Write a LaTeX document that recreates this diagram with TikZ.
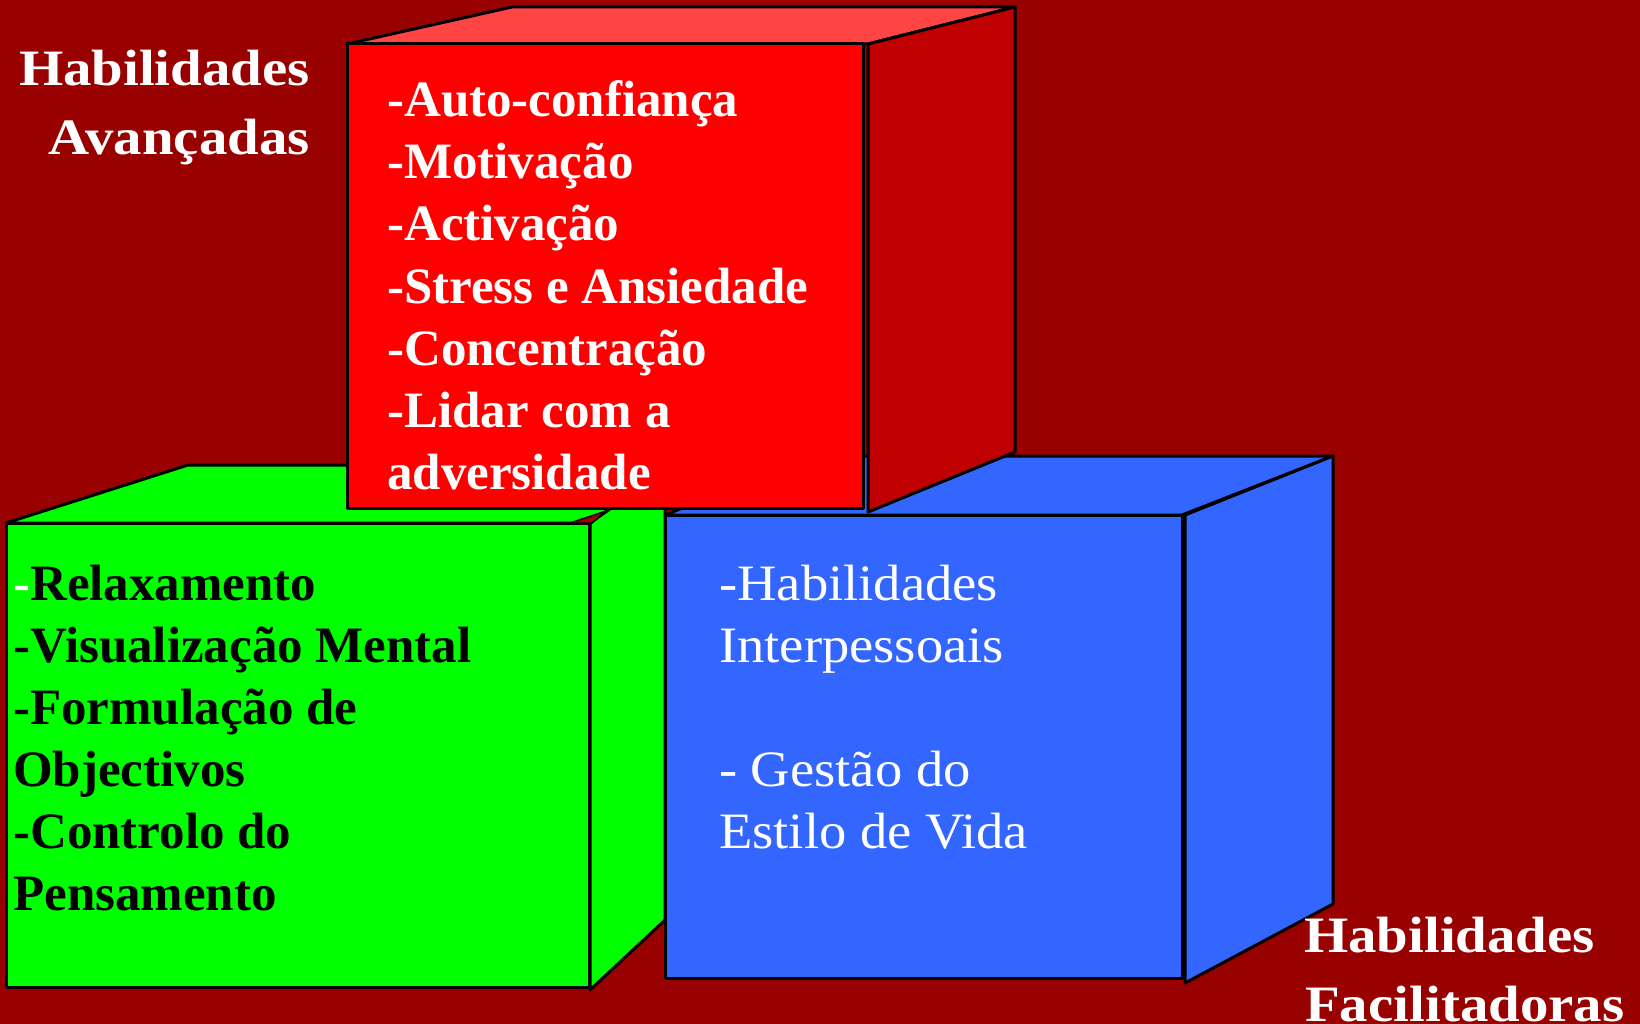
\documentclass[tikz,border=0pt]{standalone}
\usepackage{fontspec}
\setmainfont{Liberation Serif}
\newfontfamily\labelfont[FakeStretch=1.115]{Liberation Serif}
\newfontfamily\bluefont[FakeStretch=1.07]{Liberation Serif}
\definecolor{bgred}{HTML}{990000}
\definecolor{redfront}{HTML}{FF0000}
\definecolor{redtop}{HTML}{FF4444}
\definecolor{redside}{HTML}{C00000}
\definecolor{grn}{HTML}{00FF00}
\definecolor{blu}{HTML}{3366FF}
\tikzset{
  face/.style={draw=black, line width=3pt, line join=round},
  boxtxt/.style={anchor=base west, inner sep=0pt, font=\fontsize{51}{62}\selectfont\bfseries},
  bluetxt/.style={anchor=base west, inner sep=0pt, text=white, font=\fontsize{51}{62}\selectfont\bluefont},
  sidelabel/.style={inner sep=0pt, text=white, font=\fontsize{51}{62}\selectfont\labelfont\bfseries}
}
\begin{document}
\begin{tikzpicture}[x=1pt,y=-1pt]
\fill[bgred] (0,0) rectangle (1640,1024);
\useasboundingbox (0,0) rectangle (1640,1024);

% green cube
\filldraw[face, fill=grn] (6,523) -- (188,465) -- (760,465) -- (578,523) -- cycle;
\filldraw[face, fill=grn] (590,523) -- (665,470) -- (665,920) -- (590,990) -- cycle;
\filldraw[face, fill=grn] (6,523) rectangle (589,987);
\filldraw[fill=bgred, draw=black, line width=1.5pt, line join=round] (570,523) -- (606,511) -- (592,523) -- cycle;

% blue cube
\filldraw[face, fill=blu] (665,515) -- (815,456) -- (1333,456) -- (1182,515) -- cycle;
\filldraw[face, fill=blu] (1185,515) -- (1333,456) -- (1333,904) -- (1185,983) -- cycle;
\filldraw[face, fill=blu] (665,515) rectangle (1182,978);

% red cube
\filldraw[face, fill=redtop] (347,44) -- (512,7) -- (1015,7) -- (868,44) -- cycle;
\filldraw[face, fill=redside] (868,44) -- (1015,7) -- (1015,452) -- (868,512) -- cycle;
\filldraw[face, fill=redfront] (347,44) rectangle (863,508);

% red texts
\foreach \t [count=\i] in {-Auto-confiança,-Motivação,-Activação,-Stress e Ansiedade,-Concentração,-Lidar com a,adversidade}
  \node[boxtxt, text=white] (r\i) at (387,{117+62*(\i-1)}) {\t};

% green texts
\node[boxtxt, text=black] (g1) at (13,600) {{\color{white}-}Relaxamento};
\foreach \t [count=\i from 2] in {-Visualização Mental,-Formulação de,Objectivos,-Controlo do,Pensamento}
  \node[boxtxt, text=black] (g\i) at (13,{600+62*(\i-1)}) {\t};

% blue texts
\node[bluetxt] (b1) at (719,600) {-Habilidades};
\node[bluetxt] (b2) at (719,662) {Interpessoais};
\node[bluetxt] (b3) at (719,786) {- Gestão do};
\node[bluetxt] (b4) at (719,848) {Estilo de Vida};

% side labels
\node[sidelabel, anchor=base east] (la1) at (310,86) {Habilidades};
\node[sidelabel, anchor=base east] (la2) at (310,155) {Avançadas};
\node[sidelabel, anchor=base west] (lb1) at (1304,952) {Habilidades};
\node[sidelabel, anchor=base west] (lb2) at (1305,1021) {Facilitadoras};
\end{tikzpicture}
\end{document}
